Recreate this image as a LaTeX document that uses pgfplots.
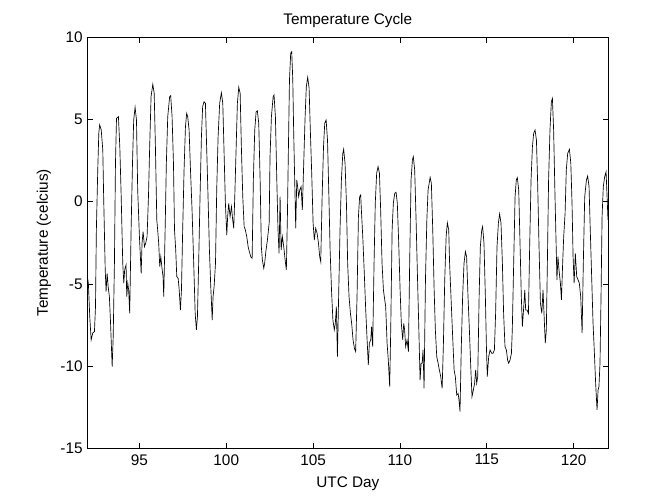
\documentclass[border=0pt]{standalone}
\usepackage{fontspec}
\setmainfont{Liberation Sans}
\usepackage{pgfplots}
\pgfplotsset{compat=1.18}

\begin{document}
\begin{tikzpicture}
% page = 672x504 px at 0.75pt per px; axis box from (87.3,37.3) to (608.3,448.3) px
\useasboundingbox (-65.5pt,-41.8pt) rectangle (438.5pt,336.2pt);
\begin{axis}[
    width=390.75pt,
    height=308.25pt,
    scale only axis,
    xmin=92, xmax=122,
    ymin=-15, ymax=10,
    xtick={95,100,...,120},
    ytick={-15,-10,...,10},
    xtick pos=both, ytick pos=both,
    tick align=inside,
    major tick length=4pt,
    axis line style={line width=0.5pt},
    every tick/.style={black, line width=0.5pt},
    font=\fontsize{11.5}{13}\selectfont,
    tick label style={font=\fontsize{11.5}{13}\selectfont},
    xticklabel style={yshift=-1pt},
    /pgf/number format/assume math mode=true,
    title={Temperature Cycle},
    xlabel={UTC Day},
    ylabel={Temperature (celcius)},
    every axis title/.style={at={(axis description cs:0.5,1)}, anchor=center, yshift=12.5pt},
    every axis x label/.style={at={(axis description cs:0.5,0)}, anchor=center, yshift=-26.3pt},
    every axis y label/.style={at={(axis description cs:0,0.5)}, xshift=-32.5pt, rotate=90, anchor=center},
]

\addplot[black, line width=0.5pt] table {
x y
92.02 -4.70
92.06 -4.96
92.14 -7.00
92.22 -8.41
92.31 -8.00
92.41 -7.90
92.47 -6.39
92.52 -1.72
92.60 1.93
92.66 4.16
92.71 4.67
92.80 4.36
92.89 3.15
92.94 0.30
93.03 -4.15
93.08 -5.47
93.14 -4.36
93.20 -5.17
93.27 -5.78
93.33 -7.20
93.43 -10.03
93.49 -8.21
93.56 -3.75
93.62 2.33
93.68 5.07
93.79 5.17
93.87 3.35
93.95 0.30
94.04 -3.75
94.10 -4.96
94.15 -4.15
94.23 -3.85
94.27 -5.78
94.33 -4.96
94.38 -5.37
94.44 -6.80
94.52 -1.72
94.60 2.33
94.67 4.97
94.75 5.74
94.83 4.97
94.90 0.71
95.00 -2.13
95.10 -4.36
95.15 -2.53
95.21 -1.82
95.29 -2.74
95.36 -2.53
95.44 -2.13
95.52 0.30
95.59 3.35
95.67 6.39
95.77 7.14
95.85 6.59
95.92 3.35
96.00 -1.11
96.05 -1.72
96.11 -2.53
96.17 -3.95
96.23 -3.35
96.31 -4.15
96.36 -4.56
96.40 -5.78
96.48 -1.72
96.55 2.33
96.63 5.17
96.74 6.39
96.80 6.45
96.88 5.17
96.96 2.33
97.02 -1.72
97.09 -2.94
97.15 -4.56
97.23 -4.66
97.29 -5.37
97.36 -6.59
97.42 -5.37
97.49 -1.72
97.57 1.93
97.65 4.56
97.72 5.37
97.78 5.17
97.86 4.36
97.94 1.93
98.03 -0.50
98.12 -3.55
98.21 -6.79
98.28 -7.80
98.34 -7.00
98.41 -3.75
98.49 0.30
98.57 3.95
98.64 5.78
98.72 6.08
98.80 5.98
98.87 3.35
98.95 0.30
99.03 -2.94
99.10 -4.96
99.19 -7.20
99.24 -5.78
99.30 -5.17
99.38 -3.75
99.45 0.71
99.53 3.95
99.62 5.98
99.72 6.63
99.80 5.98
99.88 2.74
99.95 -0.10
100.03 -2.03
100.08 -0.91
100.14 -0.10
100.22 -0.91
100.30 -0.30
100.37 -1.11
100.43 -1.62
100.49 0.30
100.57 3.35
100.64 5.98
100.72 6.96
100.80 6.59
100.87 3.35
100.95 0.30
101.03 -1.52
101.10 -1.72
101.18 -2.13
101.26 -2.74
101.33 -3.04
101.41 -3.35
101.49 -3.45
101.56 1.32
101.64 4.36
101.72 5.47
101.79 5.53
101.87 4.77
101.95 1.32
102.02 -2.74
102.08 -3.55
102.16 -4.05
102.21 -3.75
102.29 -2.94
102.37 -2.33
102.47 -1.30
102.52 2.74
102.60 5.17
102.70 6.39
102.75 6.49
102.83 5.17
102.91 1.32
102.98 -1.72
103.04 -3.14
103.10 0.30
103.16 -2.94
103.23 -2.13
103.31 -2.74
103.39 -3.55
103.46 -4.15
103.52 -0.91
103.58 3.35
103.64 7.40
103.71 9.03
103.77 9.12
103.83 7.40
103.88 4.36
103.94 1.32
104.00 -1.62
104.06 1.32
104.11 0.91
104.17 0.30
104.23 0.71
104.31 0.91
104.38 -0.50
104.46 2.33
104.54 5.17
104.61 7.00
104.69 7.57
104.77 6.90
104.84 4.36
104.92 1.73
105.00 -1.30
105.07 -2.33
105.15 -1.62
105.23 -1.92
105.31 -2.53
105.38 -3.35
105.44 -3.65
105.52 0.30
105.60 3.35
105.67 4.77
105.75 4.97
105.83 3.75
105.91 0.30
105.98 -2.94
106.06 -5.37
106.14 -7.20
106.22 -7.80
106.28 -7.40
106.34 -6.39
106.40 -9.43
106.47 -5.78
106.55 -1.72
106.63 1.32
106.71 2.94
106.76 3.19
106.84 2.33
106.92 -0.10
106.99 -3.75
107.07 -5.78
107.15 -6.79
107.22 -7.40
107.30 -8.41
107.38 -8.92
107.45 -9.12
107.53 -5.78
107.61 -0.91
107.68 0.30
107.74 0.41
107.78 -0.50
107.86 -2.13
107.94 -4.15
108.03 -6.59
108.11 -8.41
108.18 -9.93
108.24 -8.61
108.32 -8.41
108.37 -7.60
108.43 -8.82
108.51 -3.75
108.58 -0.10
108.66 1.73
108.74 2.13
108.82 1.73
108.89 -0.50
108.97 -3.75
109.05 -5.37
109.10 -5.78
109.18 -6.39
109.26 -8.61
109.33 -9.63
109.41 -11.25
109.47 -7.80
109.55 -1.72
109.62 -0.10
109.70 0.51
109.78 0.57
109.85 -0.10
109.93 -2.53
110.01 -5.37
110.08 -7.40
110.16 -8.41
110.22 -7.40
110.27 -7.80
110.33 -8.82
110.41 -8.41
110.49 -9.12
110.56 -3.75
110.64 1.32
110.72 2.54
110.77 2.74
110.85 1.93
110.93 -1.11
111.00 -4.15
111.08 -7.40
111.16 -10.85
111.22 -9.83
111.28 -9.83
111.33 -9.02
111.39 -11.35
111.47 -4.76
111.55 -1.11
111.62 0.71
111.74 1.48
111.81 1.12
111.89 -1.72
111.97 -5.37
112.04 -7.80
112.12 -9.43
112.20 -9.83
112.27 -10.24
112.35 -10.64
112.43 -11.35
112.50 -8.82
112.58 -4.76
112.66 -2.13
112.73 -1.28
112.81 -1.72
112.86 -3.75
112.94 -5.78
113.02 -7.80
113.12 -10.24
113.19 -10.64
113.27 -11.76
113.35 -11.66
113.40 -12.06
113.46 -12.77
113.53 -9.02
113.61 -5.78
113.69 -3.75
113.77 -3.04
113.84 -3.35
113.92 -5.78
114.00 -7.80
114.07 -9.83
114.15 -11.86
114.23 -11.45
114.30 -11.05
114.36 -10.24
114.42 -11.05
114.48 -10.64
114.56 -5.78
114.63 -2.74
114.71 -1.72
114.76 -1.52
114.84 -2.53
114.92 -5.78
114.98 -8.82
115.03 -10.64
115.11 -9.43
115.19 -9.02
115.28 -9.22
115.36 -9.22
115.44 -9.02
115.51 -6.79
115.59 -2.74
115.67 -1.30
115.74 -0.74
115.82 -1.30
115.90 -3.75
115.97 -6.79
116.05 -8.82
116.13 -9.02
116.20 -9.63
116.26 -9.83
116.34 -9.63
116.42 -9.22
116.47 -7.80
116.55 -3.75
116.63 0.30
116.70 1.32
116.76 1.46
116.84 0.71
116.92 -2.74
116.99 -5.78
117.05 -7.60
117.13 -6.39
117.19 -5.37
117.24 -6.59
117.32 -6.59
117.40 -6.79
117.47 -2.74
117.55 1.32
117.63 3.35
117.70 4.16
117.78 4.36
117.86 3.75
117.93 1.12
118.01 -2.74
118.09 -6.18
118.17 -6.79
118.24 -5.37
118.32 -7.40
118.37 -8.61
118.43 -7.80
118.49 -3.75
118.56 1.32
118.64 4.36
118.72 6.08
118.78 6.29
118.85 4.36
118.93 0.30
119.01 -3.35
119.04 -4.76
119.10 -3.35
119.16 -4.15
119.24 -4.96
119.30 -5.98
119.37 -3.75
119.43 -2.13
119.51 -0.70
119.58 1.93
119.66 2.94
119.76 3.19
119.84 2.33
119.91 -0.10
119.97 -3.35
120.03 -4.96
120.10 -3.14
120.18 -4.56
120.26 -4.76
120.33 -4.96
120.41 -5.78
120.49 -8.00
120.56 -3.75
120.64 0.30
120.74 1.32
120.81 1.56
120.89 0.91
120.96 -1.72
121.04 -4.56
121.12 -7.40
121.19 -9.02
121.27 -11.05
121.35 -12.67
121.41 -11.45
121.46 -11.25
121.52 -9.83
121.58 -5.78
121.64 -0.91
121.71 0.91
121.79 1.52
121.87 1.82
121.92 0.51
121.98 -1.11
};

\end{axis}
\end{tikzpicture}
\end{document}
